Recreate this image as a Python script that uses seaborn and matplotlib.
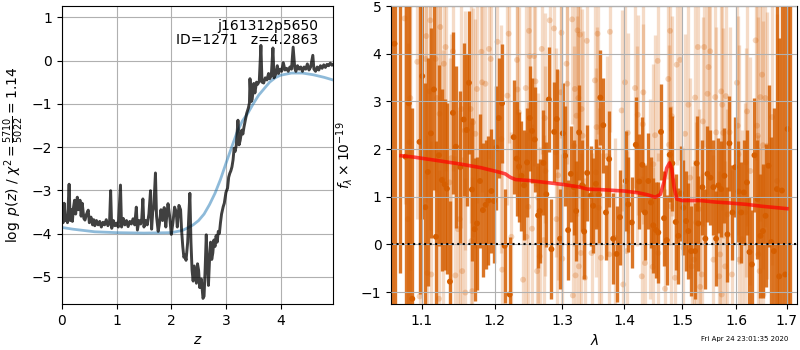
import matplotlib
matplotlib.use("Agg")
import matplotlib.pyplot as plt
import seaborn as sns
import numpy as np
from matplotlib.ticker import FixedLocator, FixedFormatter, NullLocator

# ---------------- redshift probability ----------------
pz_z = [0.00, 0.02, 0.04, 0.06, 0.08, 0.10, 0.13, 0.15, 0.17, 0.19, 0.21, 0.23, 0.25, 0.28, 0.30,
        0.33, 0.35, 0.37, 0.40, 0.42, 0.45, 0.48, 0.50, 0.53, 0.56, 0.58, 0.60, 0.63, 0.66, 0.69,
        0.72, 0.75, 0.78, 0.81, 0.84, 0.87, 0.89, 0.91, 0.94, 0.97, 1.00, 1.03, 1.07, 1.09, 1.12,
        1.15, 1.18, 1.21, 1.24, 1.27, 1.30, 1.33, 1.36, 1.38, 1.41, 1.44, 1.46, 1.48, 1.50, 1.53,
        1.56, 1.59, 1.62, 1.64, 1.66, 1.68, 1.71, 1.73, 1.76, 1.78, 1.81, 1.84, 1.87, 1.90, 1.92,
        1.94, 1.97, 2.00, 2.03, 2.06, 2.09, 2.11, 2.14, 2.17, 2.19, 2.21, 2.23, 2.25, 2.27, 2.30,
        2.32, 2.34, 2.36, 2.38, 2.40, 2.42, 2.44, 2.46, 2.48, 2.50, 2.52, 2.55, 2.58, 2.60, 2.62,
        2.64, 2.66, 2.68, 2.70, 2.72, 2.74, 2.76, 2.78, 2.80, 2.82, 2.84, 2.86, 2.88, 2.90, 2.92,
        2.95, 2.97, 3.00, 3.03, 3.05, 3.07, 3.09, 3.11, 3.13, 3.15, 3.17, 3.19, 3.22, 3.24, 3.26,
        3.29, 3.31, 3.33, 3.36, 3.38, 3.41, 3.43, 3.44, 3.46, 3.48, 3.51, 3.53, 3.56, 3.58, 3.61,
        3.64, 3.66, 3.69, 3.72, 3.75, 3.78, 3.80, 3.83, 3.86, 3.88, 3.91, 3.94, 3.96, 3.99, 4.02,
        4.05, 4.08, 4.11, 4.14, 4.17, 4.20, 4.23, 4.26, 4.28, 4.31, 4.34, 4.37, 4.40, 4.43, 4.46,
        4.49, 4.52, 4.55, 4.59, 4.61, 4.64, 4.67, 4.70, 4.73, 4.76, 4.79, 4.82, 4.85, 4.88, 4.91,
        4.94, 4.97]
pz_log = [-3.60, -3.75, -3.30, -3.70, -3.62, -3.75, -2.86, -3.70, -3.45, -3.72, -3.40, -3.23, -3.55, -3.16, -3.45,
          -3.23, -3.60, -3.30, -3.65, -3.69, -3.55, -3.46, -3.75, -3.62, -3.80, -3.68, -3.82, -3.70, -3.80, -3.72,
          -3.85, -3.74, -3.80, -3.68, -3.82, -3.75, -3.01, -3.88, -3.70, -3.82, -3.76, -3.85, -2.88, -3.85, -3.65,
          -3.80, -3.70, -3.84, -3.72, -3.78, -3.66, -3.80, -3.39, -3.92, -3.70, -3.78, -3.65, -3.20, -3.85, -3.70,
          -3.80, -3.55, -3.01, -3.90, -3.50, -3.40, -2.60, -3.60, -3.95, -3.80, -3.45, -3.70, -3.40, -3.85, -3.55,
          -3.31, -3.60, -4.02, -3.75, -3.39, -3.50, -3.85, -3.35, -3.45, -3.95, -4.30, -4.55, -4.50, -4.62, -4.20,
          -3.60, -3.07, -4.20, -4.85, -5.10, -4.75, -4.95, -5.15, -4.70, -4.85, -5.25, -5.05, -5.50, -5.45, -4.80,
          -4.03, -4.70, -5.20, -4.60, -4.20, -4.60, -4.45, -4.15, -4.30, -4.05, -4.20, -3.95, -4.00, -3.75, -3.55,
          -3.38, -3.30, -3.05, -2.95, -2.70, -2.61, -2.55, -2.46, -2.30, -2.03, -2.10, -1.95, -1.38, -1.95, -1.85,
          -1.61, -1.70, -1.54, -1.35, -1.22, -1.10, -0.98, -0.42, -0.95, -0.90, -0.53, -0.75, -0.50, -0.55, -0.48,
          0.35, -0.50, -0.52, -0.40, -0.45, -0.30, -0.42, -0.35, 0.29, -0.40, -0.32, -0.12, -0.30, -0.20, -0.25,
          -0.05, -0.22, -0.18, -0.25, -0.15, -0.20, 0.31, -0.18, -0.25, -0.12, -0.20, -0.15, -0.25, -0.15, -0.20,
          -0.08, -0.22, -0.15, 0.12, -0.20, -0.25, -0.15, -0.22, -0.12, -0.18, -0.10, -0.16, -0.09, -0.12, -0.06,
          -0.11, -0.08]

prior_z = [0.0, 0.2, 0.4, 0.6, 0.8, 1.0, 1.5, 2.0, 2.2, 2.3, 2.4, 2.5, 2.6, 2.7, 2.8, 2.9, 3.0,
           3.1, 3.2, 3.3, 3.4, 3.5, 3.6, 3.7, 3.8, 3.9, 4.0, 4.2, 4.4, 4.6, 4.8, 4.96]
prior_log = [-3.86, -3.90, -3.93, -3.96, -3.97, -3.98, -3.99, -3.98, -3.93, -3.87, -3.80, -3.70, -3.55,
             -3.33, -3.07, -2.75, -2.38, -2.02, -1.67, -1.40, -1.22, -1.00, -0.80, -0.65, -0.50, -0.40,
             -0.34, -0.29, -0.29, -0.33, -0.39, -0.45]

# ---------------- G141 spectrum ----------------
dark_wave = [1.0610, 1.0647, 1.0711, 1.0788, 1.0830, 1.0875, 1.0970, 1.1005, 1.1045, 1.1079, 1.1119, 1.1159,
             1.1186, 1.1226, 1.1266, 1.1303, 1.1333, 1.1374, 1.1415, 1.1456, 1.1516, 1.1562, 1.1604, 1.1635,
             1.1677, 1.1715, 1.1747, 1.1789, 1.1831, 1.1870, 1.1908, 1.1951, 1.1988, 1.2023, 1.2056, 1.2104,
             1.2142, 1.2215, 1.2273, 1.2317, 1.2351, 1.2387, 1.2426, 1.2470, 1.2510, 1.2545, 1.2585, 1.2635,
             1.2660, 1.2716, 1.2760, 1.2798, 1.2838, 1.2879, 1.2920, 1.2971, 1.3013, 1.3049, 1.3096, 1.3138,
             1.3186, 1.3222, 1.3269, 1.3317, 1.3349, 1.3397, 1.3451, 1.3493, 1.3537, 1.3585, 1.3609, 1.3657,
             1.3700, 1.3753, 1.3819, 1.3875, 1.3931, 1.4027, 1.4071, 1.4129, 1.4197, 1.4256, 1.4307, 1.4353,
             1.4410, 1.4456, 1.4496, 1.4543, 1.4583, 1.4630, 1.4683, 1.4730, 1.4783, 1.4829, 1.4889, 1.4936,
             1.4984, 1.5025, 1.5074, 1.5115, 1.5164, 1.5237, 1.5266, 1.5297, 1.5370, 1.5425, 1.5462, 1.5518,
             1.5573, 1.5624, 1.5667, 1.5717, 1.5780, 1.5836, 1.5874, 1.5931, 1.5983, 1.6046, 1.6098, 1.6150,
             1.6208, 1.6258, 1.6305, 1.6355, 1.6414, 1.6473, 1.6520, 1.6572, 1.6631, 1.6685, 1.6739, 1.6799,
             1.6845, 1.6900, 1.6967, 1.7013, 1.7070]
dark_flux = [-1.60, 4.21, 5.40, 1.84, 2.96, -1.14, 2.15, 3.53, 0.78, 1.52, 2.33, 3.25,
             0.16, 1.87, 1.35, 1.26, 1.17, -0.78, 2.76, 2.05, 1.62, 2.62, 2.40, 3.39,
             1.15, 0.32, 0.44, 1.33, 0.72, 0.83, 0.92, 1.12, 0.91, 2.03, 2.65, 2.96,
             -0.03, -1.05, 2.25, 1.80, 1.63, 1.44, 1.24, 1.72, 2.65, 2.38, 2.20, 0.61,
             0.70, 1.71, 1.05, 3.04, -0.10, 2.36, 2.63, 0.12, 2.33, 1.86, 0.30, 1.48,
             1.20, 0.70, 2.35, 1.24, 0.27, 1.50, 1.02, 0.81, 1.27, 1.04, 3.08, 2.50,
             0.67, 1.79, 0.12, -0.20, 0.57, 1.33, 0.84, 0.46, 2.09, 1.32, 1.67, 0.67,
             1.33, 0.88, 0.40, 0.30, 0.25, 2.36, 0.55, 0.09, 1.88, 1.70, 0.47, 0.18,
             1.07, 0.77, 0.49, 0.28, -0.14, -0.14, 1.70, 0.44, 1.20, 0.12, 1.48, 1.40,
             1.20, 0.12, 1.24, 1.16, 1.44, 0.21, 2.12, 0.67, 1.62, 1.11, 0.67, 1.09,
             1.30, -0.16, -0.42, 1.87, 0.95, 0.18, 0.28, 0.60, 1.65, 0.05, -0.14, 1.16,
             -0.67, 1.13, -0.63, 2.42, 5.60]
dark_err = [7.0, 6.5, 6.0, 5.0, 4.5, 4.0, 3.2, 3.0, 2.6, 2.4, 2.2, 2.1,
            2.0, 1.9, 1.9, 1.8, 1.8, 1.7, 1.7, 1.7, 1.6, 1.6, 1.6, 1.5,
            1.5, 1.5, 1.4, 1.4, 1.4, 1.35, 1.35, 1.3, 1.3, 1.3, 1.25, 1.25,
            1.2, 1.2, 1.2, 1.2, 1.15, 1.15, 1.15, 1.15, 1.1, 1.1, 1.1, 1.1,
            1.1, 1.1, 1.1, 1.1, 1.05, 1.05, 1.05, 1.05, 1.05, 1.05, 1.05, 1.0,
            1.0, 1.05, 1.0, 0.95, 1.0, 1.0, 1.05, 1.0, 0.95, 1.0, 1.0, 1.0,
            1.0, 1.0, 0.95, 1.0, 1.0, 1.05, 1.0, 0.95, 1.0, 1.0, 1.0, 1.0,
            1.0, 0.95, 1.0, 1.0, 1.05, 1.0, 1.0, 0.95, 1.0, 1.0, 1.0, 1.0,
            1.0, 1.0, 1.05, 1.0, 0.95, 1.0, 1.0, 1.0, 1.0, 1.05, 1.0, 1.0,
            1.0, 1.0, 1.0, 1.0, 1.0, 1.0, 1.0, 1.0, 1.05, 1.05, 1.05, 1.1,
            1.1, 1.15, 1.15, 1.2, 1.25, 1.3, 1.4, 1.5, 1.7, 2.2, 3.0, 4.0,
            5.0, 6.0, 7.0, 8.0, 9.0]

light_wave = [1.0775, 1.0818, 1.0840, 1.0849, 1.0940, 1.0970, 1.1049, 1.1058, 1.1071, 1.1102, 1.1111, 1.1124,
              1.1181, 1.1199, 1.1226, 1.1235, 1.1244, 1.1280, 1.1293, 1.1316, 1.1370, 1.1393, 1.1415, 1.1449,
              1.1484, 1.1507, 1.1530, 1.1542, 1.1576, 1.1586, 1.1659, 1.1669, 1.1680, 1.1691, 1.1725, 1.1747,
              1.1809, 1.1818, 1.1866, 1.1917, 1.1941, 1.2037, 1.2094, 1.2106, 1.2181, 1.2200, 1.2240, 1.2322,
              1.2328, 1.2347, 1.2411, 1.2451, 1.2461, 1.2488, 1.2500, 1.2510, 1.2545, 1.2575, 1.2596, 1.2620,
              1.2635, 1.2660, 1.2690, 1.2721, 1.2736, 1.2747, 1.2812, 1.2878, 1.2905, 1.2916, 1.2941, 1.2982,
              1.2993, 1.3005, 1.3071, 1.3083, 1.3159, 1.3170, 1.3190, 1.3201, 1.3212, 1.3228, 1.3244, 1.3257,
              1.3265, 1.3281, 1.3297, 1.3308, 1.3324, 1.3360, 1.3392, 1.3467, 1.3521, 1.3537, 1.3548, 1.3564,
              1.3585, 1.3618, 1.3712, 1.3755, 1.3766, 1.3848, 1.3959, 1.3986, 1.4015, 1.4044, 1.4061, 1.4184,
              1.4213, 1.4230, 1.4298, 1.4315, 1.4325, 1.4353, 1.4439, 1.4486, 1.4496, 1.4526, 1.4573, 1.4583,
              1.4700, 1.4758, 1.4771, 1.4789, 1.4803, 1.4819, 1.4877, 1.4907, 1.4967, 1.5026, 1.5056, 1.5116,
              1.5147, 1.5177, 1.5219, 1.5237, 1.5255, 1.5287, 1.5302, 1.5329, 1.5360, 1.5379, 1.5403, 1.5464,
              1.5483, 1.5514, 1.5575, 1.5607, 1.5626, 1.5681, 1.5700, 1.5719, 1.5728, 1.5738, 1.5756, 1.5794,
              1.5807, 1.5837, 1.5876, 1.5921, 1.6016, 1.6032, 1.6047, 1.6061, 1.6113, 1.6177, 1.6191, 1.6210,
              1.6274, 1.6378, 1.6405, 1.6421, 1.6431, 1.6457, 1.6470, 1.6504, 1.6520, 1.6530, 1.6569, 1.6603,
              1.6702, 1.6802]
light_flux = [4.74, 0.53, 2.14, 3.07, 3.83, -1.09, 3.89, 4.37, -0.60, 3.21, 4.70, -0.63,
              3.89, 3.07, -1.14, 2.74, 4.56, 1.37, 3.79, 4.14, 1.30, 1.81, 4.05, -0.65,
              0.32, 0.53, 2.84, -0.56, 2.39, -1.01, 2.84, 0.07, -0.98, 2.56, 2.32, 3.26,
              4.04, 3.40, 3.37, 4.10, 3.89, 4.25, 2.21, -0.53, 3.12, 4.42, 0.16, 3.87,
              3.25, 2.77, -0.74, 3.28, 0.16, 0.79, 4.48, 3.95, 0.33, 3.95, 3.42, -0.56,
              0.98, -0.25, 4.10, 0.09, 2.65, 1.54, 4.70, 4.53, 1.93, 0.53, 1.45, 3.19,
              4.44, -0.30, 3.79, 3.37, 4.72, -1.07, 2.07, 3.26, -0.65, 2.70, 4.49, 3.07,
              -0.46, 4.40, -0.18, 2.84, 2.28, -0.70, 4.27, -0.18, 3.44, 1.51, 2.46, 4.42,
              0.77, -0.28, 1.85, -0.21, 4.46, 0.14, 2.81, -0.84, 3.40, -0.14, 2.34, 3.28,
              2.06, 2.72, -0.67, 2.52, 3.19, -0.39, 0.95, -0.47, 1.68, 2.29, 3.85, -0.18,
              -0.93, 3.47, 2.09, 4.48, 0.80, 2.69, -0.70, 3.77, 3.87, -0.07, 2.32, 2.93,
              1.40, -0.46, -0.32, 3.08, 0.46, 4.14, 0.74, -0.89, -0.63, 2.58, 4.14, 3.16,
              3.72, 4.05, -0.32, 3.09, 2.35, -0.67, -0.21, 3.21, -1.05, 2.93, 2.34, -0.46,
              3.11, 0.63, 2.35, -0.63, 3.39, 2.49, 1.89, -0.32, 0.11, 0.67, 1.72, 2.79,
              1.54, 4.28, 2.49, 2.28, -0.21, -0.56, 3.09, 3.56, 2.08, -1.05, 3.07, 2.07,
              2.67, 1.33]
light_err = [3.9, 3.7, 3.6, 3.6, 3.3, 3.2, 3.0, 3.0, 2.9, 2.9, 2.9, 2.8,
             2.8, 2.8, 2.7, 2.7, 2.7, 2.7, 2.6, 2.6, 2.6, 2.6, 2.5, 2.5,
             2.5, 2.5, 2.5, 2.4, 2.5, 2.4, 2.4, 2.5, 2.4, 2.4, 2.4, 2.4,
             2.4, 2.3, 2.4, 2.3, 2.3, 2.3, 2.4, 2.3, 2.3, 2.3, 2.2, 2.3,
             2.3, 2.2, 2.3, 2.3, 2.2, 2.2, 2.3, 2.2, 2.2, 2.3, 2.2, 2.2,
             2.2, 2.3, 2.2, 2.2, 2.2, 2.2, 2.3, 2.2, 2.2, 2.1, 2.2, 2.2,
             2.2, 2.2, 2.1, 2.2, 2.2, 2.2, 2.1, 2.2, 2.2, 2.1, 2.2, 2.1,
             2.2, 2.2, 2.1, 2.1, 2.2, 2.1, 2.2, 2.1, 2.1, 2.2, 2.1, 2.1,
             2.1, 2.2, 2.1, 2.1, 2.1, 2.1, 2.1, 2.1, 2.1, 2.1, 2.1, 2.1,
             2.1, 2.1, 2.1, 2.1, 2.1, 2.1, 2.1, 2.1, 2.1, 2.1, 2.1, 2.1,
             2.1, 2.1, 2.1, 2.1, 2.1, 2.1, 2.1, 2.1, 2.1, 2.1, 2.1, 2.1,
             2.1, 2.1, 2.1, 2.1, 2.1, 2.1, 2.1, 2.1, 2.1, 2.2, 2.1, 2.1,
             2.2, 2.1, 2.2, 2.1, 2.2, 2.2, 2.2, 2.1, 2.2, 2.2, 2.2, 2.2,
             2.2, 2.2, 2.2, 2.2, 2.3, 2.3, 2.3, 2.3, 2.3, 2.3, 2.4, 2.4,
             2.4, 2.5, 2.5, 2.5, 2.5, 2.6, 2.6, 2.6, 2.6, 2.7, 2.7, 2.8,
             3.1, 3.5]

model_wave = [1.073, 1.09, 1.12, 1.15, 1.18, 1.205, 1.215, 1.222, 1.23, 1.25, 1.275, 1.30, 1.325, 1.34,
              1.36, 1.40, 1.425, 1.44, 1.453, 1.462, 1.468, 1.473, 1.478, 1.482, 1.486, 1.491, 1.50,
              1.533, 1.56, 1.586, 1.62, 1.65, 1.68, 1.70]
model_flux = [1.86, 1.83, 1.76, 1.69, 1.61, 1.52, 1.48, 1.41, 1.36, 1.34, 1.30, 1.26, 1.21, 1.16,
              1.15, 1.12, 1.08, 1.04, 0.99, 1.05, 1.30, 1.60, 1.71, 1.58, 1.20, 0.95, 0.92,
              0.92, 0.89, 0.87, 0.84, 0.80, 0.77, 0.75]

wave_ticks = [1.1, 1.2, 1.3, 1.4, 1.5, 1.6, 1.7]
G141 = (0.8353, 0.3686, 0.0)

fig = plt.figure(figsize=(8, 3.5), dpi=100)
ax_pz = fig.add_axes([0.0775, 0.1314, 0.3388, 0.8514])
ax_sp = fig.add_axes([0.489, 0.1314, 0.5075, 0.8514])

# p(z) panel
sns.lineplot(x=prior_z, y=prior_log, ax=ax_pz, color="tab:blue", alpha=0.5, lw=2)
sns.lineplot(x=pz_z, y=pz_log, ax=ax_pz, color="k", alpha=0.75, lw=2.1)
ax_pz.set_xlim(0, 4.96)
ax_pz.set_ylim(-5.63, 1.26)
ax_pz.set_xticks([0, 1, 2, 3, 4])
ax_pz.set_yticks([-5, -4, -3, -2, -1, 0, 1])
ax_pz.grid(True, color="#b0b0b0", lw=0.8)
ax_pz.set_xlabel(r"$z$")
ax_pz.set_ylabel(r"$\log\ p(z)$ / $\chi^2=\frac{5710}{5022}=1.14$")
ax_pz.text(0.945, 0.955, "j161312p5650\nID=1271   z=4.2863", transform=ax_pz.transAxes,
           ha="right", va="top", fontsize=10, linespacing=1.0)

# spectrum panel
lw_, lf_, le_ = map(np.asarray, (light_wave, light_flux, light_err))
dw_, df_, de_ = map(np.asarray, (dark_wave, dark_flux, dark_err))
ax_sp.vlines(lw_, lf_ - le_, lf_ + le_, color=G141, alpha=0.22, lw=2.4, zorder=1)
sns.scatterplot(x=light_wave, y=light_flux, ax=ax_sp, color=G141, alpha=0.25, s=18,
                edgecolor="none", zorder=1.2)
ax_sp.vlines(dw_, df_ - de_, df_ + de_, color=G141, alpha=0.85, lw=2.4, zorder=2)
sns.scatterplot(x=dark_wave, y=dark_flux, ax=ax_sp, color=G141, alpha=1.0, s=18,
                edgecolor="none", zorder=2.2)
sns.lineplot(x=model_wave, y=model_flux, ax=ax_sp, color="red", alpha=0.7, lw=2.6, zorder=3)
ax_sp.axhline(0, color="k", ls=":", lw=1.5, zorder=4)

ax_sp.set_xscale("log")
ax_sp.xaxis.set_major_locator(FixedLocator(wave_ticks))
ax_sp.xaxis.set_major_formatter(FixedFormatter([f"{t:.1f}" for t in wave_ticks]))
ax_sp.xaxis.set_minor_locator(NullLocator())
ax_sp.set_xlim(1.0605, 1.721)
ax_sp.set_ylim(-1.25, 5.0)
ax_sp.set_yticks([-1, 0, 1, 2, 3, 4, 5])
ax_sp.set_axisbelow(False)
ax_sp.grid(True, color="#b0b0b0", lw=0.8, zorder=3.5)
ax_sp.set_xlabel(r"$\lambda$")
ax_sp.set_ylabel(r"$f_\lambda\times10^{-19}$")

fig.text(0.9306, 0.031, "Fri Apr 24 23:01:35 2020", ha="center", va="center", fontsize=5)

fig.savefig("out.png", dpi=100)
